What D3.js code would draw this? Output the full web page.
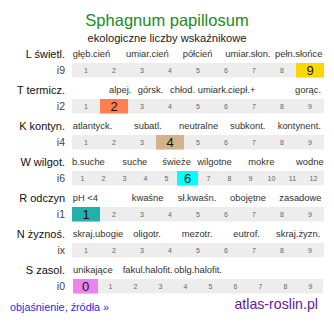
<!DOCTYPE html>
<html>
<head>
<meta charset="utf-8">
<script src="https://cdn.jsdelivr.net/npm/d3@7/dist/d3.min.js"></script>
<style>
  html, body { margin: 0; padding: 0; background: #fff; }
  svg { display: block; font-family: "Liberation Sans", Arial, sans-serif; }
</style>
</head>
<body>
<svg id="chart" width="334" height="322"></svg>
<script>
// Ecological indicator values (Ellenberg-style) for one species
const title = "Sphagnum papillosum";
const subtitle = "ekologiczne liczby wskaźnikowe";

const rowNames = ["L świetl.", "T termicz.", "K kontyn.", "W wilgot.", "R odczyn", "N żyznoś.", "S zasol."];
const rowIndexLabels = ["i9", "i2", "i4", "i6", "i1", "ix", "i0"];
// selected value per row (null = not indicated)
const rowValues = [9, 2, 4, 6, 1, null, 0];
// scale range per row
const rowMin = [1, 1, 1, 1, 1, 1, 0];
const rowMax = [9, 9, 9, 12, 9, 9, 9];
const rowColors = ["#ffd700", "#ff7f50", "#d2b48c", "#00ffff", "#20b2aa", "#cccccc", "#ee82ee"];

// descriptive labels above each scale, with the x where each starts
const labelsL = ["głęb.cień", "umiar.cień", "półcień", "umiar.słon.", "pełn.słońce"];
const labelsLx = [72.7, 126, 182.7, 225.3, 275];
const labelsT = ["alpej.", "górsk.", "chłod.", "umiark.", "ciepł.+", "gorąc."];
const labelsTx = [109, 137.7, 170, 197.7, 228, 295];
const labelsK = ["atlantyck.", "subatl.", "neutralne", "subkont.", "kontynent."];
const labelsKx = [72.7, 134, 179, 230, 277.7];
const labelsW = ["b.suche", "suche", "świeże", "wilgotne", "mokre", "wodne"];
const labelsWx = [72, 122.3, 162.3, 197.3, 248.3, 296];
const labelsR = ["pH <4", "kwaśne", "sł.kwaśn.", "obojętne", "zasadowe"];
const labelsRx = [72.7, 131.7, 177.7, 230, 279.3];
const labelsN = ["skraj.ubogie", "oligotr.", "mezotr.", "eutrof.", "skraj.żyzn."];
const labelsNx = [72.7, 133.3, 181.7, 233.3, 276];
const labelsS = ["unikające", "fakul.halofit.", "oblg.halofit."];
const labelsSx = [73, 122.7, 174];

const rowLabels = [labelsL, labelsT, labelsK, labelsW, labelsR, labelsN, labelsS];
const rowLabelsX = [labelsLx, labelsTx, labelsKx, labelsWx, labelsRx, labelsNx, labelsSx];

const svg = d3.select("#chart");

svg.append("text")
  .attr("x", 167).attr("y", 25.5)
  .attr("text-anchor", "middle")
  .attr("font-size", 16.5)
  .attr("fill", "#228b22")
  .text(title);

svg.append("text")
  .attr("x", 167).attr("y", 41.5)
  .attr("text-anchor", "middle")
  .attr("font-size", 11.2)
  .attr("fill", "#222")
  .text(subtitle);

// vertical layout of rows
const rowY = d3.scaleLinear().domain([0, 1]).range([63, 99]);
const barH = 14.5;

rowNames.forEach((name, r) => {
  const top = rowY(r);
  const left = r === 6 ? 73 : 72;
  const right = r === 6 ? 323 : 324;
  const cats = d3.range(rowMin[r], rowMax[r] + 1);
  const x = d3.scaleBand().domain(cats).range([left, right]).padding(0);

  const g = svg.append("g");

  g.append("text")
    .attr("x", 65).attr("y", top - 5.5)
    .attr("text-anchor", "end")
    .attr("font-size", 11)
    .attr("fill", "#111")
    .text(name);

  rowLabels[r].forEach((lab, i) => {
    g.append("text")
      .attr("x", rowLabelsX[r][i]).attr("y", top - 6)
      .attr("font-size", 9.4)
      .attr("fill", "#333")
      .text(lab);
  });

  g.append("text")
    .attr("x", 65).attr("y", top + barH / 2 + 3.8)
    .attr("text-anchor", "end")
    .attr("font-size", 10.5)
    .attr("fill", "#444")
    .text(rowIndexLabels[r]);

  g.append("rect")
    .attr("x", left).attr("y", top)
    .attr("width", right - left).attr("height", barH)
    .attr("fill", "#ededed");

  g.selectAll("rect.cell")
    .data(cats.filter(c => c === rowValues[r]))
    .join("rect")
    .attr("class", "cell")
    .attr("x", d => x(d)).attr("y", top)
    .attr("width", x.bandwidth()).attr("height", barH)
    .attr("fill", rowColors[r]);

  g.selectAll("text.num")
    .data(cats)
    .join("text")
    .attr("class", "num")
    .attr("x", d => x(d) + x.bandwidth() / 2)
    .attr("y", d => d === rowValues[r] ? top + barH / 2 + 4.6 : top + barH / 2 + 2.5)
    .attr("text-anchor", "middle")
    .attr("font-size", d => d === rowValues[r] ? 13 : 7)
    .attr("fill", d => d === rowValues[r] ? "#111" : "#666")
    .text(d => d);
});

svg.append("text")
  .attr("x", 10).attr("y", 310.5)
  .attr("font-size", 10.8)
  .attr("fill", "#2b2bea")
  .text("objaśnienie, źródła »");

svg.append("text")
  .attr("x", 318).attr("y", 308.5)
  .attr("text-anchor", "end")
  .attr("font-size", 14.2)
  .attr("fill", "#661a99")
  .text("atlas-roslin.pl");
</script>
</body>
</html>
